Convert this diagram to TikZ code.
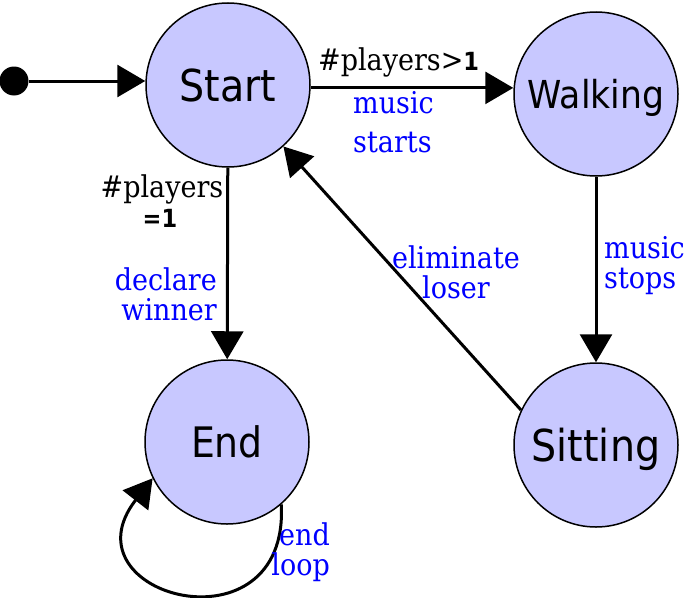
\documentclass[tikz,border=0pt]{standalone}
\usepackage{fontspec}
\usetikzlibrary{arrows.meta}
\newfontfamily\labfont[FakeStretch=0.9]{DejaVu Serif}
\newfontfamily\numfont[FakeStretch=0.9]{DejaVu Sans}
\newfontfamily\statefont[FakeStretch=0.9]{DejaVu Sans}
\definecolor{statefill}{RGB}{200,200,255}
\definecolor{actblue}{RGB}{0,0,255}
\begin{document}
\begin{tikzpicture}[x=1pt,y=-1pt,
  state/.style={circle, draw=black, line width=1.5pt, fill=statefill, inner sep=0pt, minimum size=164pt, text depth=0pt},
  arr/.style={line width=3pt, -{Triangle[length=28pt,width=32pt]}},
  guard/.style={font=\labfont\fontsize{30}{30}\selectfont, text=black, inner sep=0pt},
  act/.style={font=\labfont\fontsize{30}{30}\selectfont, text=actblue, inner sep=0pt}]
\useasboundingbox (0,0) rectangle (685,597);
% states
\node[state, font=\statefont\fontsize{44}{44}\selectfont] (Start) at (228,85) {Start};
\node[state, font=\statefont\fontsize{38.5}{38.5}\selectfont] (Walking) at (596,94) {Walking};
\node[state, font=\statefont\fontsize{42}{42}\selectfont] (End) at (227,442) {End};
\node[state, font=\statefont\fontsize{44}{44}\selectfont] (Sitting) at (596,445) {Sitting};
\node[circle, fill=black, inner sep=0pt, minimum size=29pt] (init) at (14,81) {};
% connectors
\draw[arr] (init) -- (init -| Start.west);
\draw[arr] (Start.-2) -- (Start.-2 -| Walking.west);
\draw[arr] (Start) -- (End);
\draw[arr] (Walking) -- (Sitting);
\draw[arr] (Sitting.155) -- (Start);
\draw[arr] (End.-49) .. controls +(8,152) and +(-92,118) .. (End.-154);
% labels
\node[guard, anchor=base west] (g1) at (318,70) {\#players>{\numfont\bfseries\fontsize{25}{25}\selectfont 1}};
\node[act, anchor=base west] (a1a) at (353,113) {music};
\node[act, anchor=base west] (a1b) at (353,152) {starts};
\node[guard, anchor=base] (g2a) at (162,197) {\#players};
\node[guard, anchor=base] (g2b) at (160,227) {\numfont\bfseries\fontsize{25}{25}\selectfont =1};
\node[act, anchor=base east] (a2a) at (217,290) {declare};
\node[act, anchor=base east] (a2b) at (217,320) {winner};
\node[act, anchor=base] (a3a) at (456,268) {eliminate};
\node[act, anchor=base] (a3b) at (456,298) {loser};
\node[act, anchor=base west] (a4a) at (604,258) {music};
\node[act, anchor=base west] (a4b) at (604,288) {stops};
\node[act, anchor=base east] (a5a) at (330,545) {end};
\node[act, anchor=base east] (a5b) at (330,575) {loop};
\end{tikzpicture}
\end{document}
